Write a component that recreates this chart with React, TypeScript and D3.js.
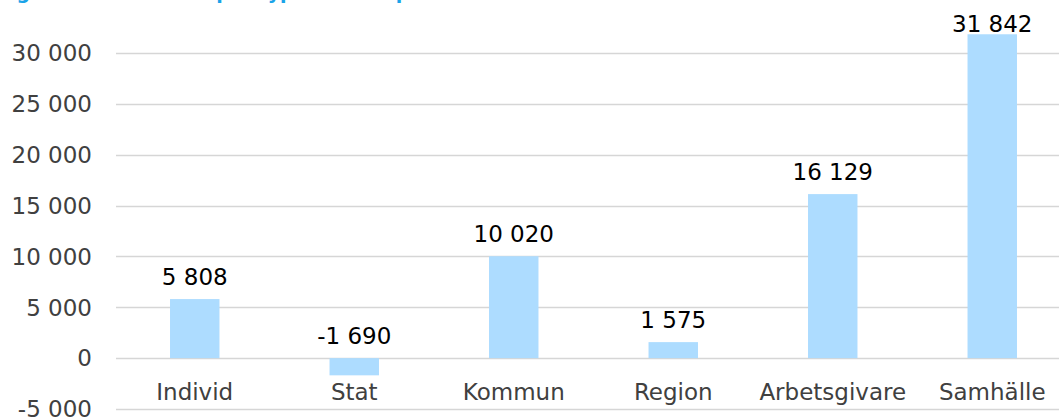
import { useEffect, useRef } from 'react'
import * as d3 from 'd3'

// data
const categories = ['Individ', 'Stat', 'Kommun', 'Region', 'Arbetsgivare', 'Samhälle']
const netValues = [5808, -1690, 10020, 1575, 16129, 31842]
const yTicks = [-5000, 0, 5000, 10000, 15000, 20000, 25000, 30000]
const title = 'Figur 5. Nettoeffekt per typ av aktör per individ och år'

const W = 1059
const H = 419

export default function App() {
  const svgRef = useRef<SVGSVGElement>(null)

  useEffect(() => {
    document.body.style.margin = '0'
    if (!svgRef.current) return
    const svg = d3.select(svgRef.current)
    svg.selectAll('*').remove()

    const font = 'DejaVu Sans, Verdana, sans-serif'
    const plotLeft = 115
    const plotRight = 1072
    const gridLeft = 116

    const x = d3.scaleBand<string>()
      .domain(categories)
      .range([plotLeft, plotRight])
      .padding(0)
    const y = d3.scaleLinear()
      .domain([-5000, 30000])
      .range([409, 53])

    // title, mostly cut off at the top like the reference
    svg.append('text')
      .attr('x', -3)
      .attr('y', -1)
      .style('font-family', font)
      .style('font-weight', 'bold')
      .style('font-size', '19px')
      .style('fill', '#1aa3e8')
      .text(title)

    // gridlines
    svg.append('g')
      .selectAll('line')
      .data(yTicks)
      .join('line')
      .attr('x1', gridLeft)
      .attr('x2', W)
      .attr('y1', (d) => Math.round(y(d)) + 0.5)
      .attr('y2', (d) => Math.round(y(d)) + 0.5)
      .attr('stroke', '#d6d6d6')
      .attr('stroke-width', 1.5)

    // thousands with space, plain hyphen for minus
    const fmt = (v: number) => d3.format(',')(v).replace(/,/g, ' ').replace('\u2212', '-')

    // y tick labels
    svg.append('g')
      .selectAll('text')
      .data(yTicks)
      .join('text')
      .attr('x', 92)
      .attr('y', (d) => y(d))
      .attr('dy', '0.36em')
      .attr('text-anchor', 'end')
      .style('font-family', font)
      .style('font-size', '23px')
      .style('fill', '#404040')
      .text((d) => fmt(d))

    const barW = x.bandwidth() * 0.31
    const data = categories.map((c, i) => ({ key: c, value: netValues[i] }))

    // bars
    svg.append('g')
      .selectAll('rect')
      .data(data)
      .join('rect')
      .attr('x', (d) => x(d.key)! + x.bandwidth() / 2 - barW / 2)
      .attr('y', (d) => y(Math.max(0, d.value)))
      .attr('width', barW)
      .attr('height', (d) => Math.abs(y(d.value) - y(0)))
      .attr('fill', '#addcff')

    // value labels
    svg.append('g')
      .selectAll('text')
      .data(data)
      .join('text')
      .attr('x', (d) => x(d.key)! + x.bandwidth() / 2)
      .attr('y', (d) => Math.max(32, y(Math.max(0, d.value)) - 14))
      .attr('text-anchor', 'middle')
      .style('font-family', font)
      .style('font-size', '23px')
      .style('fill', '#000')
      .text((d) => fmt(d.value))

    // category labels
    svg.append('g')
      .selectAll('text')
      .data(categories)
      .join('text')
      .attr('x', (d) => x(d)! + x.bandwidth() / 2)
      .attr('y', 400)
      .attr('text-anchor', 'middle')
      .style('font-family', font)
      .style('font-size', '23px')
      .style('fill', '#404040')
      .text((d) => d)
  }, [])

  return (
    <svg ref={svgRef} width={W} height={H} style={{ display: 'block', background: '#fff' }} />
  )
}
